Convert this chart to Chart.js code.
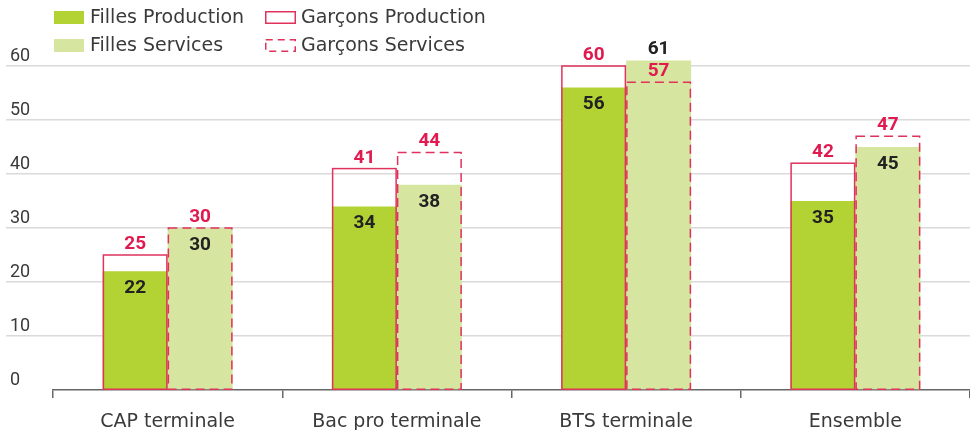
<!DOCTYPE html>
<html lang="fr">
<head>
<meta charset="utf-8">
<script src="https://cdn.jsdelivr.net/npm/chart.js@4"></script>
<style>
  html, body { margin: 0; padding: 0; background: #fff; }
  #boite { width: 970px; height: 430px; }
</style>
</head>
<body>
<div id="boite"><canvas id="graficaBarras"></canvas></div>
<script>
// Données
const categories = ["CAP terminale", "Bac pro terminale", "BTS terminale", "Ensemble"];
const fillesProduction = [22, 34, 56, 35];
const garconsProduction = [25, 41, 60, 42];
const fillesServices = [30, 38, 61, 45];
const garconsServices = [30, 44, 57, 47];
const ticksY = [0, 10, 20, 30, 40, 50, 60];

const VERT = "#b3d234";
const VERT_CLAIR = "#d6e6a0";
const ROUGE = "#e0335c";
const ROUGE_TEXTE = "#e01a4f";
const POLICE = "Roboto, 'DejaVu Sans', sans-serif";
const POLICE_TEXTE = "'DejaVu Sans', Roboto, sans-serif";

// === LÉGENDE (2 colonnes) ===
const legende = {
  id: "legende",
  afterDraw(chart) {
    const ctx = chart.ctx;
    const items = [
      { texte: "Filles Production", x: 54, y: 11, type: "plein", couleur: VERT },
      { texte: "Garçons Production", x: 265, y: 11, type: "contour" },
      { texte: "Filles Services", x: 54, y: 39, type: "plein", couleur: VERT_CLAIR },
      { texte: "Garçons Services", x: 265, y: 39, type: "tirets" }
    ];
    ctx.save();
    ctx.font = "19px " + POLICE_TEXTE;
    ctx.textBaseline = "middle";
    items.forEach(it => {
      if (it.type === "plein") {
        ctx.fillStyle = it.couleur;
        ctx.fillRect(it.x, it.y, 30, 13);
      } else {
        ctx.strokeStyle = ROUGE;
        ctx.lineWidth = 1.5;
        ctx.setLineDash(it.type === "tirets" ? [7, 5] : []);
        ctx.strokeRect(it.x + 0.75, it.y + 0.75, 29.5, 11.5);
        ctx.setLineDash([]);
      }
      ctx.fillStyle = "#3a3a3a";
      ctx.fillText(it.texte, it.x + 36, it.y + 7);
    });
    ctx.restore();
  }
};

// === CONTOURS GARÇONS + VALEURS ===
const contoursEtValeurs = {
  id: "contoursEtValeurs",
  afterDatasetsDraw(chart) {
    const ctx = chart.ctx;
    ctx.save();

    // contours (plein pour production, tirets pour services)
    [1, 3].forEach(i => {
      chart.getDatasetMeta(i).data.forEach(bar => {
        const { x, y, base, width } = bar.getProps(["x", "y", "base", "width"], true);
        ctx.strokeStyle = ROUGE;
        ctx.lineWidth = 1.5;
        ctx.setLineDash(i === 3 ? [9, 5] : []);
        ctx.strokeRect(x - width / 2 + 0.75, y, width - 1.5, base - y);
      });
    });
    ctx.setLineDash([]);

    ctx.font = "bold 19px " + POLICE;
    ctx.textAlign = "center";

    // paires filles / garçons dans chaque colonne
    const paires = [[0, 1], [2, 3]];
    paires.forEach(([f, g]) => {
      const metaF = chart.getDatasetMeta(f);
      const metaG = chart.getDatasetMeta(g);
      const dataF = chart.data.datasets[f].data;
      const dataG = chart.data.datasets[g].data;
      metaF.data.forEach((barF, k) => {
        const barG = metaG.data[k];
        // valeur garçons au-dessus du contour
        ctx.fillStyle = ROUGE_TEXTE;
        ctx.textBaseline = "alphabetic";
        ctx.fillText(dataG[k], barG.x, barG.y - 6);
        // valeur filles : dans la barre, sauf si elle dépasse les garçons
        ctx.fillStyle = "#222";
        if (dataF[k] > dataG[k]) {
          ctx.fillText(dataF[k], barF.x, barF.y - 7);
        } else {
          ctx.textBaseline = "middle";
          ctx.fillText(dataF[k], barF.x, barF.y + 17);
        }
      });
    });
    ctx.restore();
  }
};

const ctx = document.getElementById("graficaBarras").getContext("2d");

new Chart(ctx, {
  type: "bar",
  data: {
    labels: categories,
    datasets: [
      { label: "Filles Production", data: fillesProduction, stack: "prod", backgroundColor: VERT, order: 1 },
      { label: "Garçons Production", data: garconsProduction, stack: "prod", backgroundColor: "transparent", order: 0 },
      { label: "Filles Services", data: fillesServices, stack: "serv", backgroundColor: VERT_CLAIR, order: 1 },
      { label: "Garçons Services", data: garconsServices, stack: "serv", backgroundColor: "transparent", order: 0 }
    ]
  },
  options: {
    responsive: true,
    maintainAspectRatio: false,
    animation: false,
    events: [],
    layout: { padding: { top: 66, left: 10, right: 0, bottom: 0 } },
    datasets: {
      bar: { categoryPercentage: 0.567, barPercentage: 1, clip: false }
    },
    plugins: {
      legend: { display: false },
      tooltip: { enabled: false }
    },
    scales: {
      x: {
        stacked: true,
        afterFit: scale => { scale.height = 40; },
        grid: {
          offset: true,
          drawOnChartArea: false,
          drawTicks: true,
          tickLength: 8,
          color: "#666",
          lineWidth: 1.5
        },
        border: { color: "#666", width: 1.5 },
        ticks: {
          padding: 13,
          color: "#3a3a3a",
          font: { family: POLICE_TEXTE, size: 19 }
        }
      },
      y: {
        stacked: false,
        min: 0,
        max: 60,
        afterBuildTicks: scale => { scale.ticks = ticksY.map(v => ({ value: v })); },
        afterFit: scale => { scale.width = 43; },
        border: { display: false },
        grid: {
          // pas de ligne grise sous l'axe des x
          color: c => (c.tick && c.tick.value === 0 ? "rgba(0,0,0,0)" : "#dadada"),
          lineWidth: 1.5,
          drawTicks: true,
          tickLength: 47
        },
        ticks: {
          crossAlign: "far",
          labelOffset: -10,
          color: "#3a3a3a",
          font: { family: POLICE, size: 18 }
        }
      }
    }
  },
  plugins: [contoursEtValeurs, legende]
});
</script>
</body>
</html>
